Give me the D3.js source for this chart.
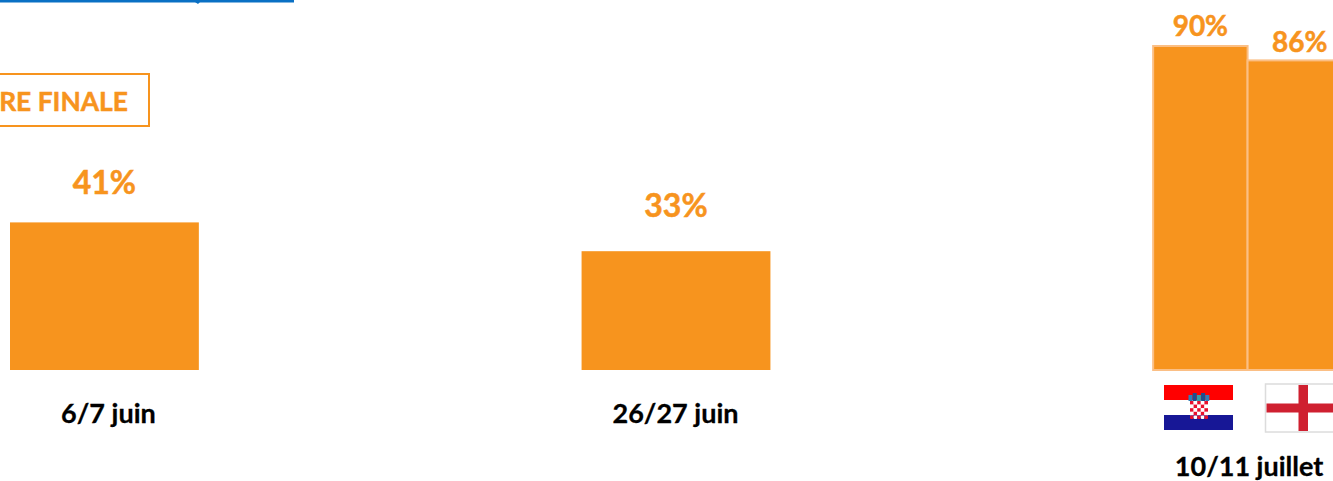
<!DOCTYPE html>
<html>
<head>
<meta charset="utf-8">
<script src="https://cdnjs.cloudflare.com/ajax/libs/d3/7.8.5/d3.min.js"></script>
<style>
  html, body { margin: 0; padding: 0; background: #fff; overflow: hidden; }
  text { font-family: Lato, "Open Sans", sans-serif; font-weight: 700; }
</style>
</head>
<body>
<div class="chart_container"></div>
<script>
const dates = ['6/7 juin', '26/27 juin', '10/11 juillet'];
const teams = [['all'], ['all'], ['Croatie', 'Angleterre']];
const values = [[41], [33], [90, 86]];
const boxLabel = 'RE FINALE';

const orange = '#f7941e';
const width = 1333;
const height = 481;
const baseline = 370;

const svg = d3.select('div.chart_container').append('svg')
  .attr('width', width)
  .attr('height', height)
  .style('display', 'block');

const xScale = d3.scaleBand()
  .domain(dates)
  .range([10, 1342])
  .paddingInner(0.6696);

const yScale = d3.scaleLinear()
  .domain([0, 100])
  .range([baseline, 10]);

// one flat row per bar
const bars = dates.flatMap((date, i) => {
  const inner = d3.scaleBand().domain(teams[i]).range([0, xScale.bandwidth()]);
  return teams[i].map((team, j) => ({
    date, team, value: values[i][j], split: teams[i].length > 1,
    x: xScale(date) + inner(team), w: inner.bandwidth()
  }));
});

// label nudges, same order as bars
const labelDx = [0, 0, 0, 5];
const labelDy = [-28, -34, -10, -8];

svg.selectAll('rect.bar')
  .data(bars).enter().append('rect')
  .attr('class', 'bar')
  .attr('x', d => d.x)
  .attr('y', d => yScale(d.value))
  .attr('width', d => d.w)
  .attr('height', d => baseline - yScale(d.value))
  .attr('fill', orange)
  .attr('stroke', d => d.split ? '#fbbf85' : 'none')
  .attr('stroke-width', 2);

svg.selectAll('text.value')
  .data(bars).enter().append('text')
  .attr('class', 'value')
  .attr('x', (d, i) => d.x + d.w / 2 + labelDx[i])
  .attr('y', (d, i) => yScale(d.value) + labelDy[i])
  .attr('text-anchor', 'middle')
  .attr('fill', orange)
  .attr('stroke', orange)
  .attr('stroke-width', 0.5)
  .style('font-size', d => d.split ? '28px' : '32px')
  .text(d => d.value + '%');

const dateDx = [4, -0.5, 1.5];

svg.selectAll('text.date')
  .data(dates).enter().append('text')
  .attr('class', 'date')
  .attr('x', (d, i) => xScale(d) + xScale.bandwidth() / 2 + dateDx[i])
  .attr('y', (d, i) => i === 2 ? 476 : 423)
  .attr('text-anchor', 'middle')
  .attr('fill', '#000')
  .attr('stroke', '#000')
  .attr('stroke-width', 0.3)
  .style('font-size', '27px')
  .text(d => d);

// clipped box top left
svg.append('rect')
  .attr('x', -40).attr('y', 74)
  .attr('width', 189).attr('height', 52)
  .attr('fill', 'none')
  .attr('stroke', orange)
  .attr('stroke-width', 2);
svg.append('text')
  .attr('x', 128).attr('y', 111)
  .attr('text-anchor', 'end')
  .attr('fill', orange)
  .attr('stroke', orange)
  .attr('stroke-width', 0.5)
  .style('font-size', '26.4px')
  .text(boxLabel);

// link underline cut by the top edge
svg.append('rect')
  .attr('x', 0).attr('y', 0).attr('width', 294).attr('height', 2.5)
  .attr('fill', '#0a70c4');
svg.append('path')
  .attr('d', 'M195 2 L200 2 L198 4 Z')
  .attr('fill', '#0a70c4');

// Croatian flag
const hr = svg.append('g').attr('transform', 'translate(1164,385)');
['#ff0000', '#ffffff', '#171796'].forEach((c, i) => {
  hr.append('rect').attr('x', 0).attr('y', i * 15).attr('width', 69).attr('height', 15).attr('fill', c);
});
const cellSize = 3.6;
d3.range(5).forEach(r => d3.range(5).forEach(c => {
  hr.append('rect')
    .attr('x', 26 + c * cellSize).attr('y', 16 + r * cellSize)
    .attr('width', cellSize).attr('height', cellSize)
    .attr('rx', r === 4 ? 1 : 0)
    .attr('fill', (r + c) % 2 ? '#ffffff' : '#e8112d');
}));
['#2f7fb8', '#1d4f8f', '#35a0a8', '#1d4f8f', '#2f7fb8'].forEach((c, i) => {
  hr.append('rect')
    .attr('x', 24.5 + i * 4.2).attr('y', i % 2 ? 8 : 10)
    .attr('width', 4).attr('height', i % 2 ? 8 : 6)
    .attr('fill', c);
});

// English flag
const en = svg.append('g').attr('transform', 'translate(1265.5,384)');
en.append('rect').attr('width', 72).attr('height', 48).attr('fill', '#fff')
  .attr('stroke', '#dcdcdc').attr('stroke-width', 1.5);
en.append('rect').attr('x', 33).attr('y', 1).attr('width', 9.5).attr('height', 46).attr('fill', '#cf2030');
en.append('rect').attr('x', 1).attr('y', 19.5).attr('width', 70).attr('height', 9).attr('fill', '#cf2030');
</script>
</body>
</html>
